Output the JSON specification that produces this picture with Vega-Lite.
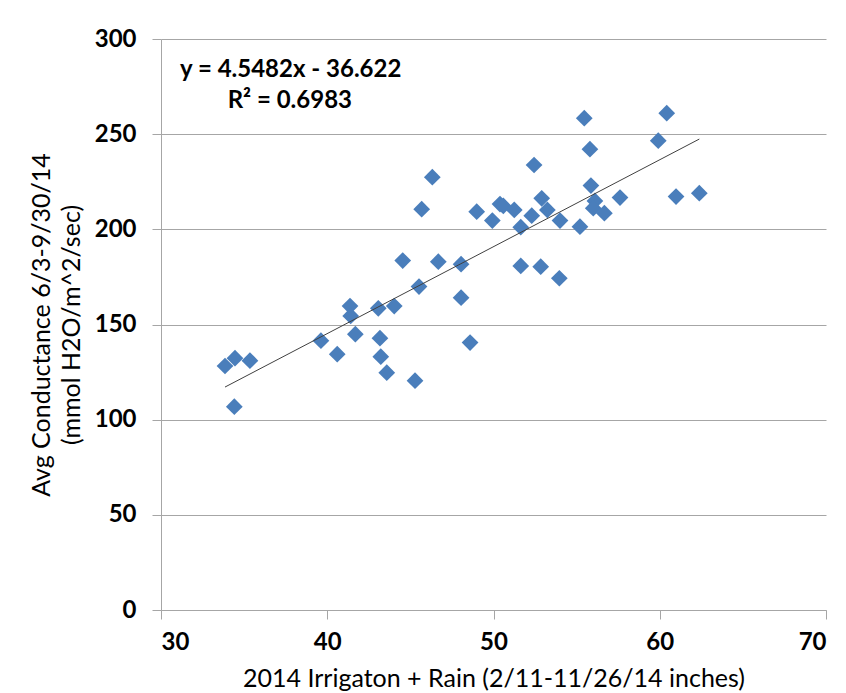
{
  "$schema": "https://vega.github.io/schema/vega-lite/v6.json",
  "autosize": {"type": "none"},
  "width": 665,
  "height": 571,
  "padding": {"left": 161, "top": 39, "right": 20, "bottom": 83},
  "background": "white",
  "config": {
    "view": {"stroke": null},
    "axis": {
      "labelFont": "Lato",
      "labelFontWeight": "bold",
      "labelFontSize": 24,
      "labelColor": "#000000",
      "titleFont": "Lato",
      "titleFontWeight": "normal",
      "titleFontSize": 25,
      "titleColor": "#000000",
      "domainColor": "#a6a6a6",
      "tickColor": "#a6a6a6",
      "gridColor": "#a6a6a6",
      "tickSize": 9,
      "domainWidth": 1,
      "tickWidth": 1,
      "gridWidth": 1
    }
  },
  "datasets": {
    "points": [
      {"rain": 33.85, "cond": 128.2},
      {"rain": 34.45, "cond": 132.3},
      {"rain": 35.35, "cond": 131.0},
      {"rain": 34.41, "cond": 106.8},
      {"rain": 39.62, "cond": 141.5},
      {"rain": 40.6, "cond": 134.4},
      {"rain": 41.37, "cond": 159.7},
      {"rain": 41.41, "cond": 154.5},
      {"rain": 41.69, "cond": 144.9},
      {"rain": 43.07, "cond": 158.5},
      {"rain": 43.17, "cond": 142.8},
      {"rain": 43.22, "cond": 133.1},
      {"rain": 43.58, "cond": 124.7},
      {"rain": 44.03, "cond": 159.7},
      {"rain": 44.54, "cond": 183.6},
      {"rain": 45.28, "cond": 120.5},
      {"rain": 45.52, "cond": 169.9},
      {"rain": 45.68, "cond": 210.6},
      {"rain": 46.32, "cond": 227.4},
      {"rain": 46.68, "cond": 183.0},
      {"rain": 48.05, "cond": 181.7},
      {"rain": 48.05, "cond": 164.1},
      {"rain": 48.59, "cond": 140.5},
      {"rain": 48.99, "cond": 209.3},
      {"rain": 49.93, "cond": 204.6},
      {"rain": 50.39, "cond": 213.3},
      {"rain": 50.59, "cond": 212.3},
      {"rain": 51.25, "cond": 210.2},
      {"rain": 51.64, "cond": 201.1},
      {"rain": 51.64, "cond": 180.8},
      {"rain": 52.3, "cond": 207.2},
      {"rain": 52.44, "cond": 233.8},
      {"rain": 52.84, "cond": 180.4},
      {"rain": 52.9, "cond": 216.3},
      {"rain": 53.24, "cond": 210.2},
      {"rain": 54.0, "cond": 204.6},
      {"rain": 53.96, "cond": 174.3},
      {"rain": 55.2, "cond": 201.4},
      {"rain": 55.46, "cond": 258.4},
      {"rain": 55.8, "cond": 242.1},
      {"rain": 55.86, "cond": 223.0},
      {"rain": 56.1, "cond": 214.9},
      {"rain": 56.0, "cond": 211.1},
      {"rain": 56.67, "cond": 208.5},
      {"rain": 57.61, "cond": 216.7},
      {"rain": 59.91, "cond": 246.6},
      {"rain": 60.42, "cond": 261.0},
      {"rain": 60.98, "cond": 217.2},
      {"rain": 62.38, "cond": 219.0}
    ],
    "notes": [
      {"label": "y = 4.5482x - 36.622", "rain": 37.8, "cond": 283.6},
      {"label": "R² = 0.6983", "rain": 37.75, "cond": 267.6}
    ]
  },
  "layer": [
    {
      "data": {"name": "points"},
      "mark": {"type": "point", "shape": "diamond", "filled": true, "size": 280, "color": "#4a7ebb", "opacity": 1},
      "encoding": {
        "x": {
          "field": "rain", "type": "quantitative",
          "scale": {"domain": [30, 70], "nice": false, "zero": false},
          "axis": {
            "values": [30, 40, 50, 60, 70],
            "grid": false,
            "labelPadding": 11,
            "title": "2014 Irrigaton + Rain (2/11-11/26/14 inches)",
            "titlePadding": 12
          }
        },
        "y": {
          "field": "cond", "type": "quantitative",
          "scale": {"domain": [0, 300], "nice": false},
          "axis": {
            "values": [0, 50, 100, 150, 200, 250, 300],
            "grid": true,
            "labelPadding": 16,
            "title": ["Avg Conductance 6/3-9/30/14", "(mmol H2O/m^2/sec)"],
            "titleLineHeight": 30,
            "titlePadding": 10
          }
        }
      }
    },
    {
      "data": {"name": "points"},
      "transform": [{"regression": "cond", "on": "rain"}],
      "mark": {"type": "line", "color": "#404040", "strokeWidth": 1},
      "encoding": {
        "x": {"field": "rain", "type": "quantitative"},
        "y": {"field": "cond", "type": "quantitative"}
      }
    },
    {
      "data": {"name": "notes"},
      "mark": {"type": "text", "font": "Lato", "fontWeight": "bold", "fontSize": 24, "color": "#000000", "align": "center", "baseline": "middle"},
      "encoding": {
        "x": {"field": "rain", "type": "quantitative"},
        "y": {"field": "cond", "type": "quantitative"},
        "text": {"field": "label"}
      }
    }
  ]
}
